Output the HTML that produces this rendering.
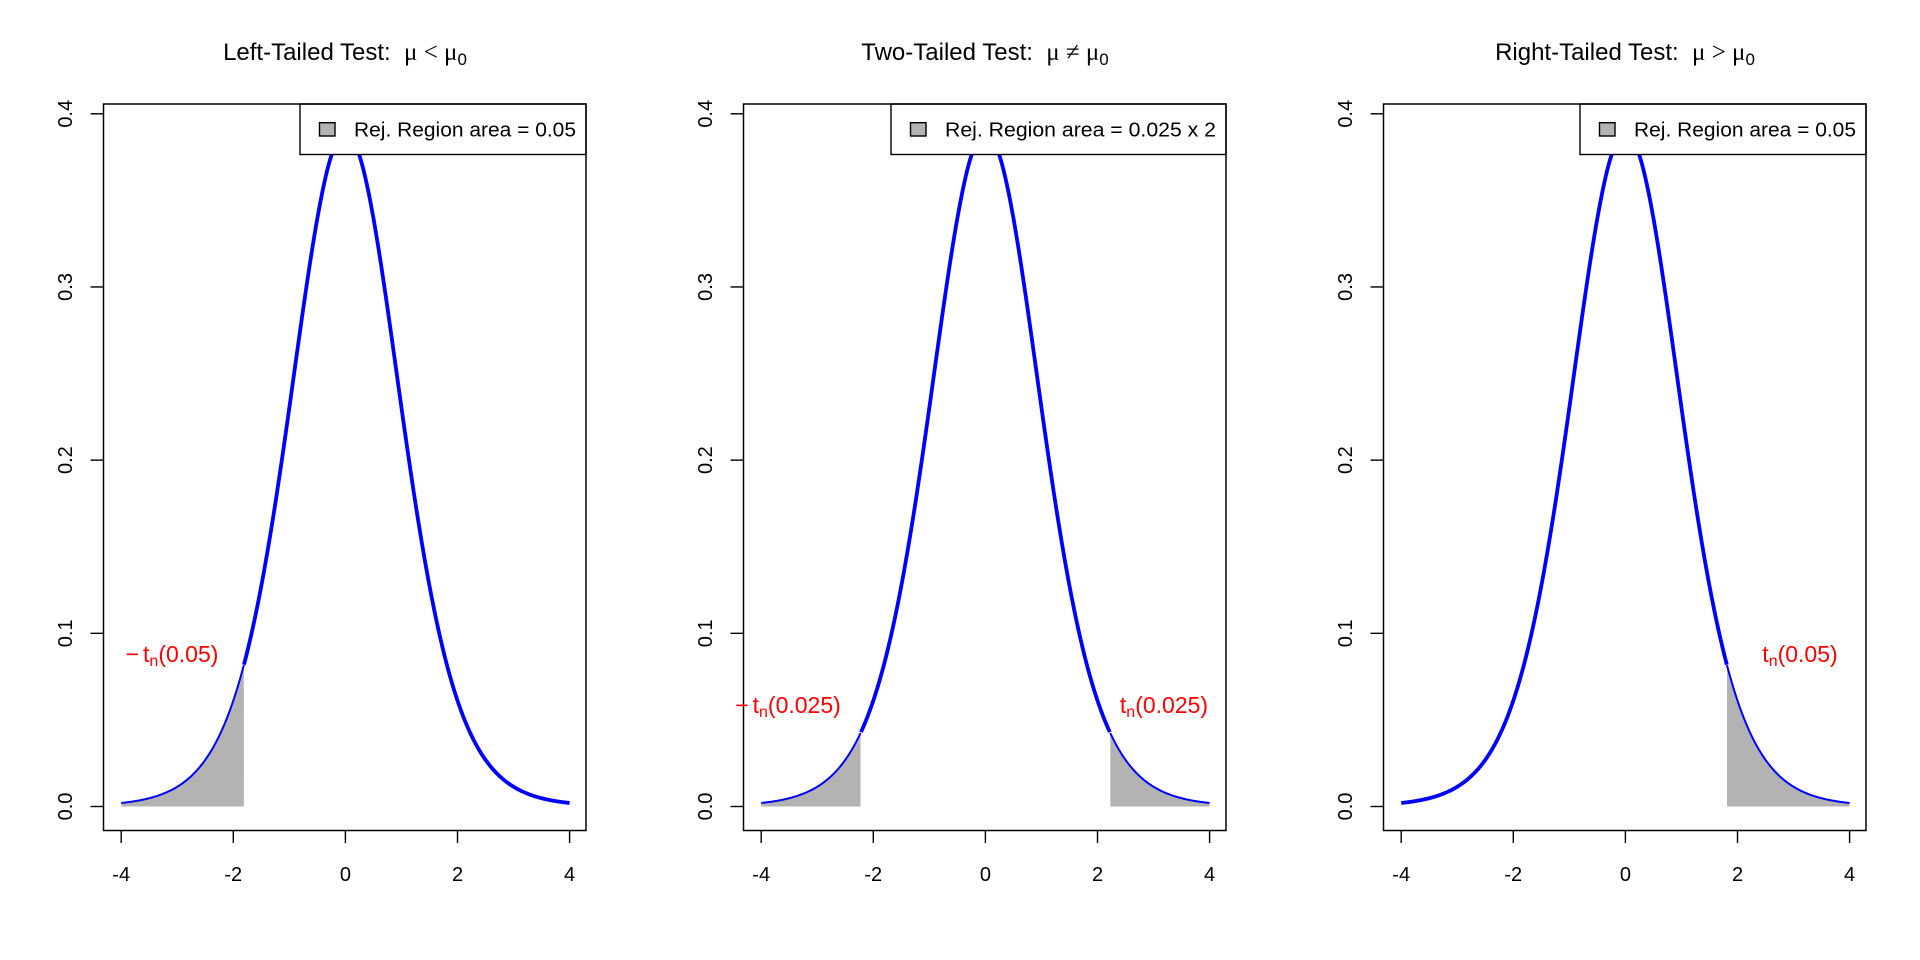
<!DOCTYPE html>
<html><head><meta charset="utf-8"><style>
html,body{margin:0;padding:0;background:#fff;}
svg{display:block;font-family:"Liberation Sans",Arial,sans-serif;}
</style></head><body>
<svg id="s" width="1920" height="960" viewBox="0 0 1920 960" xmlns="http://www.w3.org/2000/svg"></svg>
<script>
const s=document.getElementById('s');
function dt(x){const n=10;const c=0.3891083839;return c*Math.pow(1+x*x/n,-(n+1)/2);}
let h='';
const panels=[
 {off:0,title:'Left-Tailed Test:',rel:'<',leg:'Rej. Region area = 0.05',lw:222,regs:[[-4,-1.812]],
  labs:[{x:172,y:662,neg:true,t:'(0.05)'}]},
 {off:640,title:'Two-Tailed Test:',rel:'≠',leg:'Rej. Region area = 0.025 x 2',lw:271,regs:[[-4,-2.228],[2.228,4]],
  labs:[{x:788,y:713,neg:true,t:'(0.025)'},{x:1164,y:713,neg:false,t:'(0.025)'}]},
 {off:1280,title:'Right-Tailed Test:',rel:'>',leg:'Rej. Region area = 0.05',lw:222,regs:[[1.812,4]],
  labs:[{x:1800,y:662,neg:false,t:'(0.05)'}]}
];
for(const p of panels){
 const o=p.off;
 const X=v=>o+121.2+(v+4)*56.05, Y=v=>806.5-v*1731.8;
 h+=`<defs><clipPath id="c${o}"><rect x="${o+103.5}" y="104" width="482.5" height="726.5"/></clipPath></defs>`;
 for(const r of p.regs){
  let d=`M${X(r[0])},${Y(0)}`;
  for(let i=0;i<=100;i++){const x=r[0]+(r[1]-r[0])*i/100;d+=` L${X(x).toFixed(2)},${Y(dt(x)).toFixed(2)}`;}
  d+=` L${X(r[1])},${Y(0)} Z`;
  h+=`<path d="${d}" fill="#b3b3b3" stroke="none"/>`;
  let l='';for(let i=0;i<=100;i++){const x=r[0]+(r[1]-r[0])*i/100;l+=(i?' L':'M')+X(x).toFixed(2)+','+Y(dt(x)).toFixed(2);}
  h+=`<path d="${l}" fill="none" stroke="#0000ff" stroke-width="2"/>`;
 }
 let segs=[];let cur=[];
 for(let i=0;i<=800;i++){const x=-4+8*i/800;
  const inR=p.regs.some(r=>x>r[0]+0.001&&x<r[1]-0.001);
  if(inR){if(cur.length){segs.push(cur);cur=[];}}else cur.push([X(x),Y(dt(x))]);}
 if(cur.length)segs.push(cur);
 for(const sg of segs){h+=`<path clip-path="url(#c${o})" d="${sg.map((q,i)=>(i?'L':'M')+q[0].toFixed(2)+','+q[1].toFixed(2)).join(' ')}" fill="none" stroke="#0000ff" stroke-width="3.8" stroke-linejoin="round"/>`;}
 const lx=586-(p.lw+64);
 h+=`<rect x="${o+lx}" y="104" width="${586-lx}" height="50.5" fill="#fff" stroke="#000" stroke-width="1.4"/>`;
 h+=`<rect x="${o+lx+19.5}" y="122.7" width="15.5" height="13.3" fill="#b3b3b3" stroke="#000" stroke-width="1.4"/>`;
 h+=`<text x="${o+lx+54}" y="136.5" font-size="20" textLength="${p.lw}" lengthAdjust="spacingAndGlyphs">${p.leg}</text>`;
 h+=`<rect x="${o+103.5}" y="104" width="482.5" height="726.5" fill="none" stroke="#000" stroke-width="1.5"/>`;
 for(const v of [-4,-2,0,2,4]){h+=`<line x1="${X(v)}" y1="830.5" x2="${X(v)}" y2="843" stroke="#000" stroke-width="1.4"/><text x="${X(v)}" y="881" font-size="20" text-anchor="middle">${v}</text>`;}
 for(const v of [0,0.1,0.2,0.3,0.4]){const y=Y(v);h+=`<line x1="${o+90.5}" y1="${y}" x2="${o+103.5}" y2="${y}" stroke="#000" stroke-width="1.4"/><text transform="translate(${o+72},${y}) rotate(-90)" font-size="20" text-anchor="middle">${v.toFixed(1)}</text>`;}
 h+=`<text x="${o+345}" y="60" font-size="24" text-anchor="middle">${p.title}&#160;&#160;<tspan font-family="Liberation Serif,serif" font-size="25">μ&#160;${p.rel}&#160;μ</tspan><tspan font-size="17" dy="5">0</tspan></text>`;
 for(const l of p.labs){h+=`<text x="${l.x}" y="${l.y}" font-size="23" fill="#ff0000" text-anchor="middle">${l.neg?'−<tspan dx="4">t</tspan>':'t'}<tspan font-size="16" dy="4">n</tspan><tspan dy="-4">${l.t}</tspan></text>`;}
}
s.innerHTML=h;
</script>
</body></html>
